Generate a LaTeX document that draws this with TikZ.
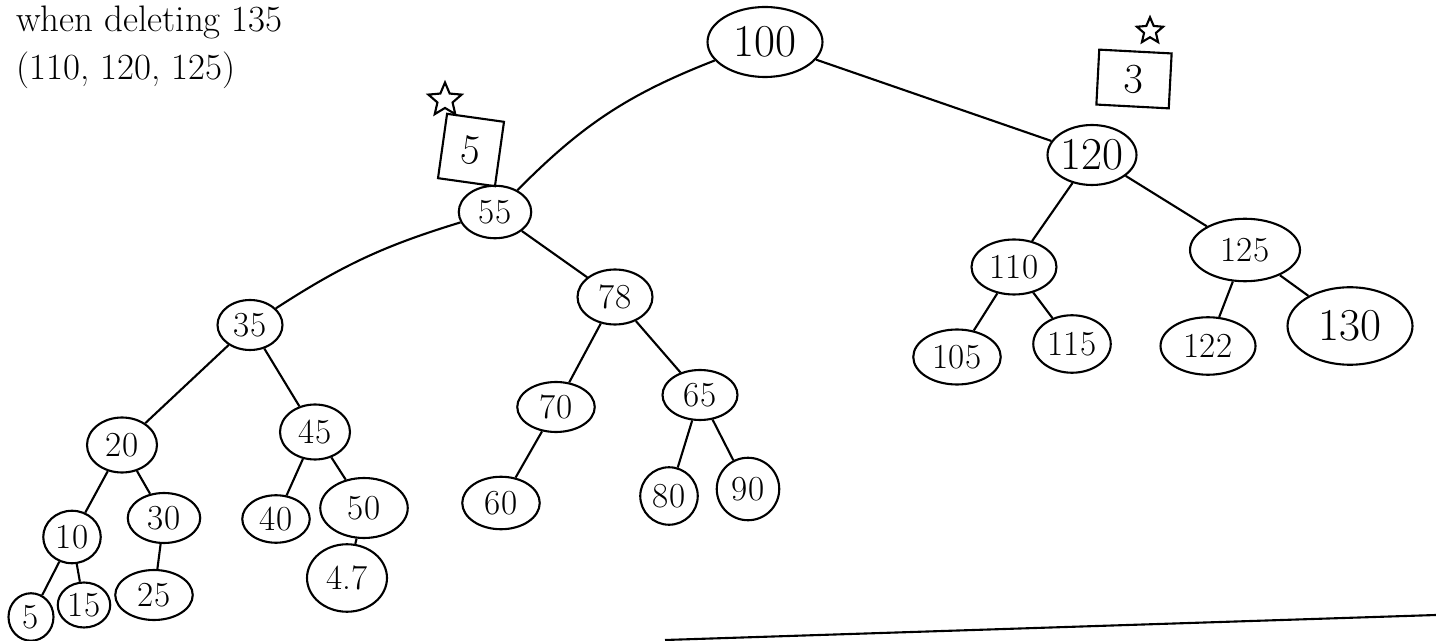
\documentclass[tikz,border=0pt]{standalone}
\usetikzlibrary{shapes.geometric}
\begin{document}
\begin{tikzpicture}[
    x=0.02cm, y=-0.02cm,
    key/.style={draw, line width=1.2pt, ellipse, inner sep=0pt,
                minimum width=1.4cm, minimum height=1cm, font=\fontsize{20}{22}\selectfont},
    bigkey/.style={key, font=\fontsize{26}{28}\selectfont},
    balance/.style={draw, line width=1.2pt, minimum width=1.45cm, minimum height=1.1cm,
                    font=\fontsize{24}{26}\selectfont},
    mark star/.style={draw, line width=1.2pt, star, star points=5, star point ratio=2.2,
                      minimum size=0.7cm, inner sep=0pt},
    note/.style={anchor=west, font=\fontsize{21}{24}\selectfont},
    link/.style={line width=1.2pt},
  ]
    \useasboundingbox (0,0) rectangle (1436,641);

    \node[note] (title) at (10,22) {when deleting 135};
    \node[note] (keys) at (10,70) {(110, 120, 125)};

    % root and right subtree
    \node[bigkey, minimum width=2.3cm, minimum height=1.4cm] (n100) at (765,42) {100};
    \node[bigkey, minimum width=1.7cm, minimum height=1.2cm] (n120) at (1092,155) {120};
    \node[key, minimum width=1.7cm, minimum height=1.1cm] (n110) at (1014,267) {110};
    \node[key, minimum width=2.2cm, minimum height=1.25cm] (n125) at (1245,250) {125};
    \node[key, minimum width=1.75cm, minimum height=1.1cm] (n105) at (957,357) {105};
    \node[key, minimum width=1.55cm, minimum height=1.15cm] (n115) at (1072,344) {115};
    \node[key, minimum width=1.9cm, minimum height=1.15cm] (n122) at (1208,346) {122};
    \node[bigkey, minimum width=2.5cm, minimum height=1.55cm] (n130) at (1350,326) {130};

    % left subtree
    \node[key, minimum width=1.45cm, minimum height=1.05cm] (n55) at (495,212) {55};
    \node[key, minimum width=1.3cm] (n35) at (250,325) {35};
    \node[key, minimum width=1.5cm, minimum height=1.1cm] (n78) at (615,297) {78};
    \node[key, minimum height=1.1cm] (n20) at (122,445) {20};
    \node[key, minimum height=1.1cm] (n45) at (315,432) {45};
    \node[key, minimum width=1.15cm, minimum height=1.05cm] (n10) at (72,537) {10};
    \node[key, minimum width=1.45cm] (n30) at (164,518) {30};
    \node[key, minimum width=0.9cm, minimum height=0.95cm] (n5) at (31,617) {5};
    \node[key, minimum width=1.05cm, minimum height=0.9cm] (n15) at (84,605) {15};
    \node[key, minimum width=1.55cm] (n25) at (154,595) {25};
    \node[key, minimum width=1.35cm, minimum height=0.95cm] (n40) at (276,519) {40};
    \node[key, minimum width=1.75cm, minimum height=1.2cm] (n50) at (364,508) {50};
    \node[key, minimum width=1.6cm, minimum height=1.35cm] (n47) at (347,578) {4.7};
    \node[key, minimum width=1.55cm] (n70) at (556,407) {70};
    \node[key, minimum width=1.5cm] (n65) at (700,395) {65};
    \node[key, minimum width=1.55cm, minimum height=1.05cm] (n60) at (501,503) {60};
    \node[key, minimum width=1.15cm, minimum height=1.15cm] (n80) at (669,496) {80};
    \node[key, minimum width=1.25cm, minimum height=1.25cm] (n90) at (748,489) {90};

    % balance marks
    \node[balance, minimum width=1.15cm, minimum height=1.3cm, rotate=-8] (bal5) at (471,150) {5};
    \node[mark star] (star5) at (445,100) {};
    \node[balance, rotate=-3] (bal3) at (1134,79) {3};
    \node[mark star, minimum size=0.55cm] (star3) at (1150,31) {};

    \draw[link] (n100) to[bend right=12] (n55);
    \draw[link] (n100) -- (n120);
    \draw[link] (n120) -- (n110) (n120) -- (n125)
                (n110) -- (n105) (n110) -- (n115)
                (n125) -- (n122) (n125) -- (n130);
    \draw[link] (n55) to[bend right=8] (n35);
    \draw[link] (n55) -- (n78);
    \draw[link] (n35) -- (n20) (n35) -- (n45)
                (n20) -- (n10) (n20) -- (n30)
                (n10) -- (n5) (n10) -- (n15) (n30) -- (n25)
                (n45) -- (n40) (n45) -- (n50) (n50) -- (n47);
    \draw[link] (n78) -- (n70) (n78) -- (n65)
                (n70) -- (n60) (n65) -- (n80) (n65) -- (n90);

    \coordinate (rule start) at (665,640);
    \coordinate (rule end) at (1436,615);
    \draw[link] (rule start) -- (rule end);
  \end{tikzpicture}
\end{document}
